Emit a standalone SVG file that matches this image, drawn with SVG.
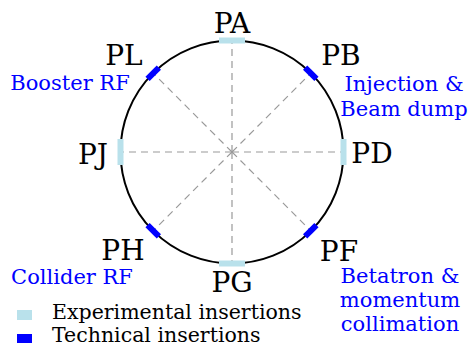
<svg xmlns="http://www.w3.org/2000/svg" width="470" height="346" viewBox="0 0 470 346">
<style>
text{font-family:'DejaVu Serif',serif}
.lbl{font-size:28px;fill:#000;text-anchor:middle}
.note{font-size:21px;fill:#0000ff;text-anchor:middle}
.leg{font-size:20.5px;fill:#000}
.exp{fill:#b9e1eb}
.tech{fill:#0000ff}
.dash{stroke:#999;stroke-width:1.2;stroke-dasharray:7 5;fill:none}
</style>
<rect width="470" height="346" fill="#fff"/>
<g id="connectors">
<line class="dash" x1="232" y1="152" x2="232" y2="40.5"/>
<line class="dash" x1="232" y1="152" x2="310.8" y2="73.2"/>
<line class="dash" x1="232" y1="152" x2="343.5" y2="152"/>
<line class="dash" x1="232" y1="152" x2="310.8" y2="230.8"/>
<line class="dash" x1="232" y1="152" x2="232" y2="263.5"/>
<line class="dash" x1="232" y1="152" x2="153.2" y2="230.8"/>
<line class="dash" x1="232" y1="152" x2="120.5" y2="152"/>
<line class="dash" x1="232" y1="152" x2="153.2" y2="73.2"/>
</g>
<g id="ring">
<circle cx="232" cy="152" r="111.5" fill="none" stroke="#000" stroke-width="2"/>
</g>
<g id="PA"><rect class="exp" x="-13" y="-3" width="26" height="6" transform="translate(232,40.5)"/><text class="lbl" x="232" y="33">PA</text></g>
<g id="PB"><rect class="tech" x="-8" y="-3" width="16" height="6" transform="translate(310.8,73.2) rotate(45)"/><text class="lbl" x="341" y="65">PB</text></g>
<g id="PD"><rect class="exp" x="-13" y="-3" width="26" height="6" transform="translate(343.5,152) rotate(90)"/><text class="lbl" x="372" y="163">PD</text></g>
<g id="PF"><rect class="tech" x="-8" y="-3" width="16" height="6" transform="translate(310.8,230.8) rotate(-45)"/><text class="lbl" x="339" y="261">PF</text></g>
<g id="PG"><rect class="exp" x="-13" y="-3" width="26" height="6" transform="translate(232,263.5)"/><text class="lbl" x="232" y="292">PG</text></g>
<g id="PH"><rect class="tech" x="-8" y="-3" width="16" height="6" transform="translate(153.2,230.8) rotate(45)"/><text class="lbl" x="123" y="260">PH</text></g>
<g id="PJ"><rect class="exp" x="-13" y="-3" width="26" height="6" transform="translate(120.5,152) rotate(90)"/><text class="lbl" x="93" y="164">PJ</text></g>
<g id="PL"><rect class="tech" x="-8" y="-3" width="16" height="6" transform="translate(153.2,73.2) rotate(-45)"/><text class="lbl" x="124" y="65">PL</text></g>
<g id="note-booster"><text class="note" x="70" y="90">Booster RF</text></g>
<g id="note-injection"><text class="note" x="404" y="91" font-size="20.5">Injection &amp;</text><text class="note" x="404" y="116" font-size="20.5">Beam dump</text></g>
<g id="note-collider"><text class="note" x="72" y="284">Collider RF</text></g>
<g id="note-betatron"><text class="note" x="400" y="283">Betatron &amp;</text><text class="note" x="400" y="307">momentum</text><text class="note" x="400" y="331">collimation</text></g>
<g id="legend">
<rect class="exp" x="17" y="310" width="15" height="10"/>
<text class="leg" x="52" y="319">Experimental insertions</text>
<rect class="tech" x="17" y="334" width="15" height="9"/>
<text class="leg" x="52" y="342">Technical insertions</text>
</g>
</svg>
